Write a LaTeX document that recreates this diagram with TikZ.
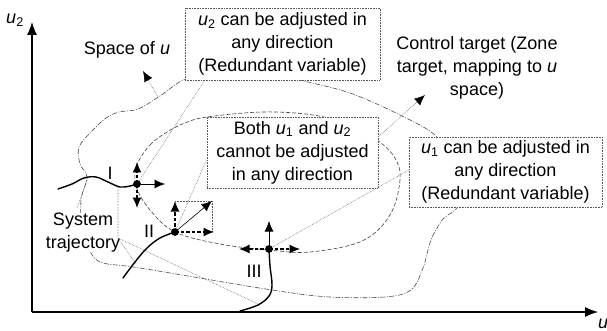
\documentclass[tikz,border=0pt]{standalone}
\usepackage{fontspec}
\setmainfont{Liberation Sans}
\usetikzlibrary{arrows.meta,calc}
\newcommand{\uvar}[1]{\textit{u}\textsubscript{#1}}
\begin{document}
\begin{tikzpicture}[x=1pt,y=-1pt,
  txt/.style={font=\fontsize{18}{23}\selectfont, align=center, inner sep=0pt},
  infobox/.style={txt, draw=gray!70!black, densely dotted, fill=white, line width=0.6pt},
  conn/.style={draw=gray!70!black, densely dotted, line width=0.55pt},
  outline/.style={draw=gray!60!black, line width=0.6pt, dash pattern=on 5pt off 1.5pt on 1pt off 1.5pt},
  zone/.style={draw=gray!50!black, line width=0.6pt, dash pattern=on 4pt off 2pt},
  traj/.style={line width=1.4pt, line cap=round},
  tip/.style={-{Latex[length=10.5pt,width=9pt,color=black]}},
  dmove/.style={tip, line width=1.1pt, dash pattern=on 3.5pt off 2pt},
  smove/.style={tip, line width=0.8pt},
  axis/.style={-{Latex[length=13pt,width=10pt]}, line width=1.2pt},
  dot/.style={circle, fill=black, inner sep=0pt, minimum size=7.5pt}
]
\useasboundingbox (0,0) rectangle (607,331);

% axes
\coordinate (O) at (32,312);
\coordinate (Yend) at (32,22);
\coordinate (Xend) at (598,312);
\draw[axis] (O) -- (Yend);
\draw[axis] (O) -- (Xend);
\node[txt] (lu2) at (15,20) {\uvar{2}};
\node[txt] (lu) at (603,324) {\textit{u}};

% space of u outline
\draw[outline] plot[smooth cycle, tension=0.55] coordinates {
  (300,80) (230,62) (185,79) (160,96) (138,109) (119,112) (106,118)
  (92,131) (79,147) (80,164) (87,177) (81,200) (82,230) (91,253)
  (103,263) (140,268) (272,290) (330,297) (385,297) (411,290)
  (423,268) (431,240) (443,219) (458,205) (452,170) (437,137)
  (400,115) (350,93)};

% control target zone
\draw[zone] plot[smooth cycle, tension=0.6] coordinates {
  (137,165) (150,145) (167,132) (185,123) (207,117) (263,112) (313,115)
  (350,125) (377,140) (395,158) (400,180) (390,215) (362,241) (310,252)
  (269,250) (220,244) (175,232) (150,210) (136,186)};

% points
\node[dot] (pI) at (137,184) {};
\node[dot] (pII) at (175,232) {};
\node[dot] (pIII) at (269,249) {};

% label for system trajectory
\node[txt, fill=white] (st) at (83,232.5) {System\\trajectory};

% info boxes
\node[infobox, minimum width=195pt, minimum height=72pt] (b1) at (282.5,44)
  {\uvar{2} can be adjusted in\\any direction\\(Redundant variable)};
\node[infobox, minimum width=171pt, minimum height=71pt] (b2) at (292.5,152.5)
  {Both \uvar{1} and \uvar{2}\\cannot be adjusted\\in any direction};
\node[infobox, minimum width=193pt, minimum height=70pt] (b3) at (505.5,172)
  {\uvar{1} can be adjusted in\\any direction\\(Redundant variable)};
\node[txt] (ctt) at (477,67.5) {Control target (Zone\\target, mapping to \textit{u}\\space)};
\node[txt] (sp) at (127,50) {Space of \textit{u}};

% connectors
\coordinate (spS) at (158,97);
\coordinate (spE) at (143,71);
\draw[conn, tip] (spS) -- (spE);
\coordinate (ctE) at (425,95);
\draw[conn, tip] ($(b2.north east)+(0,20)$) -- (ctE);
\draw[conn] ($(b1.south west)+(20,0)$) -- (pI.center);
\draw[conn] (pII.center) -- ($(b2.west)+(0,7)$);
\draw[conn] (pIII.center) -- ($(b3.west)+(0,-2)$);
\coordinate (tI) at (118,187);
\coordinate (tj) at (118,238);
\coordinate (tII) at (136,264);
\coordinate (tIII) at (258,304);
\draw[conn] (tI) -- (tj) -- (tII);
\draw[conn] (tj) -- (tIII);
\coordinate (sI) at (77,208);
\coordinate (sI2) at (88,178);
\draw[conn] (sI) -- (sI2);

% trajectories
\draw[traj] plot[smooth, tension=0.6] coordinates {
  (58,189) (72,184) (84,178) (96,177) (108,182) (120,187) (130,186) (137,184)};
\draw[traj] plot[smooth, tension=0.6] coordinates {
  (123,278) (135,262) (147,248) (160,238) (175,232)};
\draw[traj] plot[smooth, tension=0.6] coordinates {
  (240,311) (258,305) (269,296) (272,285) (270,266) (269,249)};
\node[txt] (lI) at (110,173) {I};
\node[txt] (lII) at (149,231) {II};
\node[txt] (lIII) at (254,271) {III};

% movement arrows
\coordinate (aIr) at (165,184);
\coordinate (aIu) at (137,162);
\coordinate (aId) at (137,208);
\draw[smove] (pI.center) -- (aIr);
\draw[dmove] (pI.center) -- (aIu);
\draw[dmove] (pI.center) -- (aId);

\coordinate (aIIu) at (175,201);
\coordinate (aIIr) at (214,232);
\coordinate (aIId) at (212,201);
\draw[conn] (aIIu) -- (aIId |- aIIu) -- (aIId |- aIIr);
\draw[dmove] (pII.center) -- (aIIu);
\draw[dmove] (pII.center) -- (aIIr);
\draw[smove, line width=0.6pt] (pII.center) -- (aIId);

\coordinate (aIIIu) at (269,221);
\coordinate (aIIIl) at (239,249);
\coordinate (aIIIr) at (300,249);
\draw[smove, line width=0.7pt] (pIII.center) -- (aIIIu);
\draw[dmove] (pIII.center) -- (aIIIl);
\draw[dmove] (pIII.center) -- (aIIIr);

\node[dot] at (pI) {};
\node[dot] at (pII) {};
\node[dot] at (pIII) {};
\end{tikzpicture}
\end{document}
